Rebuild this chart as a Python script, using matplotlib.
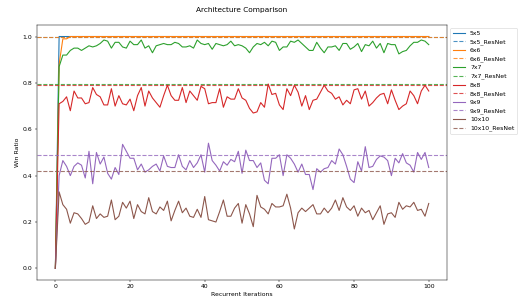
import numpy as np
import matplotlib
matplotlib.use('Agg')
import matplotlib.pyplot as plt

iters = np.arange(101)

wr_5x5 = [0.0] + [1.0] * 100
wr_6x6 = [0.0, 0.88, 0.99, 0.99] + [1.0] * 97
wr_7x7 = [0.0, 0.87, 0.92, 0.92, 0.94, 0.95, 0.95, 0.94, 0.95, 0.96,
          0.955, 0.96, 0.97, 0.985, 0.98, 0.95, 0.975, 0.975, 0.955, 0.95,
          0.98, 0.965, 0.965, 0.985, 0.95, 0.96, 0.93, 0.96, 0.965, 0.97,
          0.965, 0.965, 0.975, 0.97, 0.955, 0.955, 0.96, 0.95, 0.985, 0.97,
          0.965, 0.97, 0.945, 0.97, 0.965, 0.96, 0.965, 0.98, 0.96, 0.965,
          0.96, 0.95, 0.93, 0.955, 0.97, 0.965, 0.975, 0.96, 0.98, 0.975,
          0.94, 0.955, 0.955, 0.98, 0.975, 0.985, 0.97, 0.955, 0.94, 0.94,
          0.975, 0.95, 0.93, 0.955, 0.955, 0.96, 0.94, 0.97, 0.97, 0.945,
          0.955, 0.97, 0.935, 0.965, 0.96, 0.98, 0.95, 0.97, 0.93, 0.97,
          0.965, 0.965, 0.925, 0.935, 0.94, 0.96, 0.975, 0.975, 0.985, 0.98,
          0.965]
wr_8x8 = [0.0, 0.71, 0.72, 0.74, 0.68, 0.765, 0.735, 0.735, 0.71, 0.715,
          0.78, 0.75, 0.74, 0.705, 0.705, 0.775, 0.70, 0.745, 0.71, 0.705,
          0.73, 0.68, 0.745, 0.78, 0.70, 0.765, 0.735, 0.715, 0.695, 0.745,
          0.79, 0.745, 0.725, 0.725, 0.78, 0.715, 0.765, 0.745, 0.725, 0.785,
          0.775, 0.71, 0.715, 0.715, 0.775, 0.695, 0.74, 0.73, 0.73, 0.775,
          0.735, 0.725, 0.69, 0.67, 0.675, 0.715, 0.695, 0.795, 0.75, 0.755,
          0.705, 0.685, 0.775, 0.745, 0.79, 0.76, 0.70, 0.745, 0.685, 0.725,
          0.73, 0.76, 0.79, 0.765, 0.755, 0.73, 0.74, 0.705, 0.725, 0.71,
          0.77, 0.775, 0.73, 0.765, 0.70, 0.715, 0.735, 0.75, 0.755, 0.71,
          0.77, 0.725, 0.685, 0.70, 0.71, 0.765, 0.745, 0.71, 0.765, 0.79,
          0.765]
wr_9x9 = [0.0, 0.40, 0.465, 0.44, 0.40, 0.44, 0.455, 0.445, 0.39, 0.505,
          0.365, 0.50, 0.45, 0.48, 0.41, 0.385, 0.435, 0.405, 0.535, 0.505,
          0.475, 0.475, 0.425, 0.45, 0.415, 0.425, 0.44, 0.45, 0.42, 0.485,
          0.44, 0.435, 0.435, 0.49, 0.44, 0.425, 0.465, 0.435, 0.455, 0.49,
          0.415, 0.54, 0.465, 0.445, 0.42, 0.46, 0.445, 0.47, 0.46, 0.505,
          0.41, 0.51, 0.465, 0.465, 0.435, 0.455, 0.38, 0.365, 0.475, 0.475,
          0.49, 0.40, 0.49, 0.475, 0.45, 0.415, 0.45, 0.405, 0.405, 0.34,
          0.43, 0.415, 0.43, 0.435, 0.465, 0.45, 0.515, 0.49, 0.44, 0.385,
          0.37, 0.46, 0.42, 0.525, 0.435, 0.44, 0.47, 0.485, 0.48, 0.465,
          0.40, 0.475, 0.455, 0.495, 0.455, 0.445, 0.415, 0.50, 0.47, 0.50,
          0.435]
wr_10x10 = [0.0, 0.33, 0.275, 0.255, 0.195, 0.24, 0.235, 0.215, 0.19, 0.20,
            0.27, 0.215, 0.235, 0.22, 0.225, 0.295, 0.21, 0.225, 0.285, 0.26,
            0.29, 0.215, 0.275, 0.245, 0.235, 0.305, 0.245, 0.235, 0.265, 0.25,
            0.29, 0.205, 0.25, 0.29, 0.24, 0.26, 0.225, 0.22, 0.255, 0.22,
            0.31, 0.21, 0.205, 0.20, 0.245, 0.295, 0.225, 0.225, 0.26, 0.28,
            0.195, 0.275, 0.235, 0.18, 0.315, 0.265, 0.255, 0.235, 0.28, 0.265,
            0.265, 0.27, 0.32, 0.26, 0.17, 0.24, 0.26, 0.245, 0.26, 0.275,
            0.235, 0.235, 0.26, 0.24, 0.26, 0.295, 0.25, 0.305, 0.265, 0.25,
            0.27, 0.225, 0.26, 0.24, 0.25, 0.21, 0.24, 0.27, 0.19, 0.235,
            0.24, 0.22, 0.285, 0.255, 0.27, 0.265, 0.285, 0.25, 0.255, 0.225,
            0.28]

sizes = ['5x5', '6x6', '7x7', '8x8', '9x9', '10x10']
recurrent = [wr_5x5, wr_6x6, wr_7x7, wr_8x8, wr_9x9, wr_10x10]
resnet = [1.0, 1.0, 0.795, 0.79, 0.487, 0.418]
colors = ['tab:blue', 'tab:orange', 'tab:green', 'tab:red', 'tab:purple', 'tab:brown']

dpi = 44
fig, ax = plt.subplots(figsize=(532 / dpi, 304 / dpi), dpi=dpi)
for name, wr, rn, c in zip(sizes, recurrent, resnet, colors):
    ax.plot(iters, wr, color=c, lw=1.8, label=name)
    # resnet baseline, constant over iterations
    ax.axhline(rn, color=c, linestyle='--', lw=1.8, alpha=0.8, label=name + '_ResNet')

ax.set_xlabel('Recurrent Iterations')
ax.set_ylabel('Win Ratio')
ax.set_title('Architecture Comparison', pad=21)
ax.legend(loc='upper left', bbox_to_anchor=(1, 1))
fig.subplots_adjust(left=0.069, right=0.841, top=0.918, bottom=0.079)
fig.savefig('out.png', dpi=dpi)
